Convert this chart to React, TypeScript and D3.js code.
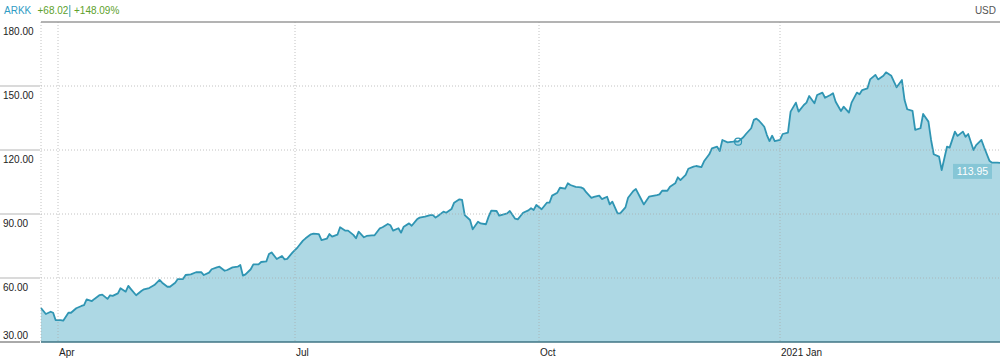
import React from "react";
import * as d3 from "d3";

const symbol = "ARKK";
const currency = "USD";

const dates = [
  "2020-03-25","2020-03-27","2020-03-29","2020-03-30","2020-03-31","2020-04-02","2020-04-03","2020-04-05","2020-04-06","2020-04-08",
  "2020-04-10","2020-04-11","2020-04-12","2020-04-14","2020-04-15","2020-04-17","2020-04-18","2020-04-20","2020-04-21","2020-04-22",
  "2020-04-24","2020-04-25","2020-04-27","2020-04-28","2020-04-29","2020-05-01","2020-05-03","2020-05-04","2020-05-06","2020-05-08",
  "2020-05-10","2020-05-11","2020-05-13","2020-05-14","2020-05-16","2020-05-17","2020-05-19","2020-05-20","2020-05-22","2020-05-24",
  "2020-05-26","2020-05-27","2020-05-29","2020-05-30","2020-06-01","2020-06-02","2020-06-04","2020-06-05","2020-06-07","2020-06-09",
  "2020-06-10","2020-06-11","2020-06-12","2020-06-14","2020-06-15","2020-06-17","2020-06-18","2020-06-20","2020-06-21","2020-06-22",
  "2020-06-24","2020-06-26","2020-06-27","2020-06-28","2020-06-30","2020-07-02","2020-07-04","2020-07-05","2020-07-07","2020-07-08",
  "2020-07-10","2020-07-11","2020-07-13","2020-07-14","2020-07-15","2020-07-17","2020-07-18","2020-07-20","2020-07-21","2020-07-23",
  "2020-07-24","2020-07-25","2020-07-27","2020-07-28","2020-07-30","2020-07-31","2020-08-02","2020-08-03","2020-08-05","2020-08-06",
  "2020-08-07","2020-08-09","2020-08-10","2020-08-11","2020-08-13","2020-08-14","2020-08-16","2020-08-17","2020-08-19","2020-08-21",
  "2020-08-22","2020-08-23","2020-08-24","2020-08-26","2020-08-27","2020-08-29","2020-08-30","2020-09-01","2020-09-02","2020-09-03",
  "2020-09-05","2020-09-06","2020-09-08","2020-09-09","2020-09-11","2020-09-12","2020-09-13","2020-09-15","2020-09-16","2020-09-18",
  "2020-09-19","2020-09-20","2020-09-22","2020-09-23","2020-09-25","2020-09-27","2020-09-28","2020-09-29","2020-09-30","2020-10-02",
  "2020-10-04","2020-10-05","2020-10-06","2020-10-08","2020-10-09","2020-10-11","2020-10-12","2020-10-13","2020-10-15","2020-10-17",
  "2020-10-18","2020-10-19","2020-10-21","2020-10-22","2020-10-24","2020-10-25","2020-10-27","2020-10-28","2020-10-29","2020-10-31",
  "2020-11-01","2020-11-03","2020-11-04","2020-11-06","2020-11-07","2020-11-09","2020-11-10","2020-11-12","2020-11-13","2020-11-15",
  "2020-11-16","2020-11-17","2020-11-19","2020-11-20","2020-11-22","2020-11-23","2020-11-24","2020-11-26","2020-11-27","2020-11-29",
  "2020-11-30","2020-12-02","2020-12-03","2020-12-05","2020-12-06","2020-12-08","2020-12-09","2020-12-10","2020-12-12","2020-12-14",
  "2020-12-15","2020-12-16","2020-12-18","2020-12-19","2020-12-21","2020-12-22","2020-12-23","2020-12-24","2020-12-26","2020-12-27",
  "2020-12-28","2020-12-29","2020-12-30","2021-01-01","2021-01-02","2021-01-04","2021-01-05","2021-01-07","2021-01-08","2021-01-10",
  "2021-01-11","2021-01-12","2021-01-14","2021-01-15","2021-01-17","2021-01-18","2021-01-20","2021-01-21","2021-01-22","2021-01-24",
  "2021-01-25","2021-01-27","2021-01-28","2021-01-30","2021-01-31","2021-02-01","2021-02-03","2021-02-04","2021-02-06","2021-02-07",
  "2021-02-09","2021-02-10","2021-02-12","2021-02-13","2021-02-14","2021-02-16","2021-02-17","2021-02-18","2021-02-20","2021-02-21",
  "2021-02-23","2021-02-24","2021-02-26","2021-02-27","2021-02-28","2021-03-02","2021-03-03","2021-03-05","2021-03-06","2021-03-08",
  "2021-03-09","2021-03-11","2021-03-12","2021-03-13","2021-03-15","2021-03-16","2021-03-18","2021-03-19","2021-03-21","2021-03-22",
  "2021-03-24","2021-03-25"
];

const closes = [
  45.93, 43.1, 44.2, 43.7, 40.3, 40.3, 40.0, 43.7, 43.7, 45.8,
  46.9, 47.3, 50.0, 49.2, 50.2, 52.0, 52.2, 50.2, 51.9, 51.6,
  52.8, 55.2, 53.6, 56.3, 54.8, 51.9, 53.9, 54.7, 55.3, 56.7,
  59.1, 57.8, 55.9, 55.9, 57.8, 59.5, 59.5, 61.4, 61.7, 62.7,
  62.7, 61.4, 62.5, 64.1, 65.0, 65.3, 63.4, 63.75, 65.0, 65.3,
  66.1, 61.1, 61.7, 64.1, 66.4, 66.4, 67.5, 67.8, 71.25, 72.0,
  68.9, 70.3, 68.75, 69.0, 71.9, 74.4, 77.5, 78.6, 80.5, 80.8,
  80.6, 77.8, 78.4, 80.6, 79.4, 80.3, 83.8, 82.2, 82.2, 80.2,
  78.6, 81.7, 79.1, 79.7, 80.0, 80.0, 83.3, 83.8, 85.3, 84.7,
  82.2, 83.3, 81.25, 84.05, 85.6, 84.5, 87.5, 88.3, 88.75, 89.5,
  89.5, 88.3, 89.2, 91.1, 90.6, 92.3, 95.3, 96.9, 96.6, 89.5,
  87.2, 82.8, 86.4, 85.6, 85.2, 88.75, 91.55, 91.4, 89.2, 89.9,
  90.3, 91.4, 87.8, 87.5, 90.6, 91.7, 92.7, 91.9, 94.2, 92.2,
  95.3, 95.3, 98.6, 100.0, 102.3, 101.9, 104.4, 103.6, 102.7, 102.5,
  101.9, 100.2, 97.6, 98.0, 98.6, 97.0, 98.1, 94.5, 95.8, 90.3,
  90.3, 93.1, 97.6, 100.8, 101.7, 96.9, 94.5, 98.1, 98.4, 98.9,
  99.2, 100.9, 100.9, 102.8, 104.4, 107.2, 105.9, 108.3, 111.2, 112.2,
  112.5, 112.0, 114.7, 118.0, 120.8, 121.55, 119.5, 124.7, 123.6, 123.9,
  124.1, 123.9, 125.95, 127.5, 130.2, 134.1, 134.7, 133.7, 130.9, 127.0,
  124.2, 126.7, 124.2, 124.7, 127.5, 128.1, 138.0, 142.2, 138.0, 141.1,
  142.2, 145.3, 141.9, 145.8, 146.9, 144.5, 145.8, 146.6, 142.6, 138.3,
  140.3, 137.5, 142.2, 146.9, 146.1, 148.1, 148.9, 153.1, 155.2, 153.1,
  154.8, 156.4, 154.8, 152.0, 149.4, 152.8, 143.4, 139.1, 138.3, 129.4,
  130.2, 136.9, 133.3, 124.7, 118.0, 116.9, 110.6, 121.55, 121.1, 128.6,
  126.6, 128.6, 126.2, 127.5, 120.0, 122.3, 124.7, 121.3, 115.0, 114.05,
  114.05, 113.95
];

const yTicks = [30, 60, 90, 120, 150, 180];
const xTickDates = ["2020-04-01", "2020-07-01", "2020-10-01", "2021-01-01"];
const xTickLabels = ["Apr", "Jul", "Oct", "2021 Jan"];
const markerDate = "2020-12-16";

const FONT = "'Liberation Sans', Arial, sans-serif";

export default function App() {
  const W = 1000;
  const H = 361;
  const left = 41;
  const right = 1000;
  const top = 22;
  const bottom = 342;

  const parse = d3.utcParse("%Y-%m-%d");
  const data = dates.map((d, i) => ({ date: parse(d) as Date, value: closes[i] }));
  const first = data[0];
  const last = data[data.length - 1];
  const tickDates = xTickDates.map((d) => parse(d) as Date);

  const x = d3
    .scaleUtc()
    .domain([first.date, ...tickDates, last.date])
    .range([left, 58, 295, 539, 780, right]);
  const y = d3.scaleLinear().domain([30, 180]).range([bottom, top]);

  const line = d3
    .line<{ date: Date; value: number }>()
    .x((d) => x(d.date))
    .y((d) => y(d.value));
  const area = d3
    .area<{ date: Date; value: number }>()
    .x((d) => x(d.date))
    .y0(bottom)
    .y1((d) => y(d.value));

  const change = last.value - first.value;
  const pct = (change / first.value) * 100;
  const fmt = d3.format(".2f");
  const signed = (v: number) => (v >= 0 ? "+" : "") + fmt(v);

  const marker = data.find((d) => d3.utcFormat("%Y-%m-%d")(d.date) === markerDate)!;

  return (
    <svg
      width={W}
      height={H}
      style={{ position: "absolute", left: 0, top: 0, display: "block", background: "#fff" }}
      fontFamily={FONT}
    >
      {/* header */}
      <text x={4} y={14} fontSize={10} fill="#2f9cc4">{symbol}</text>
      <text x={37.5} y={14} fontSize={10} fill="#5e9f2c">{signed(change)}</text>
      <rect x={69} y={5} width={1.5} height={12} fill="#7cc0d3" />
      <text x={74} y={14} fontSize={10} fill="#5e9f2c">{signed(pct) + "%"}</text>
      <text x={996} y={14} fontSize={10} fill="#555" textAnchor="end">{currency}</text>

      {/* area + line */}
      <path d={area(data) || ""} fill="#add8e4" />
      <path d={line(data) || ""} fill="none" stroke="#2f95b3" strokeWidth={1.8} strokeLinejoin="round" />

      {/* grid over area */}
      {yTicks
        .filter((t) => t !== 30 && t !== 180)
        .map((t) => (
          <line key={"g" + t} x1={left} x2={right} y1={y(t)} y2={y(t)} stroke="#a8a8a8" strokeOpacity={0.7} strokeDasharray="1,2" />
        ))}
      {tickDates.map((d, i) => (
        <line key={"v" + i} x1={x(d)} x2={x(d)} y1={top} y2={bottom} stroke="#a8a8a8" strokeOpacity={0.7} strokeDasharray="1,2" />
      ))}
      <line x1={left} x2={left} y1={top} y2={bottom} stroke="#a8a8a8" strokeOpacity={0.7} strokeDasharray="1,2" />

      {/* frame lines */}
      <line x1={left} x2={right} y1={top} y2={top} stroke="#9a9a9a" strokeWidth={1.5} />
      <line x1={left} x2={right} y1={bottom} y2={bottom} stroke="#3f7585" strokeWidth={1.5} />

      {/* y axis labels */}
      {yTicks.map((t) => (
        <g key={"y" + t}>
          {t !== 180 && (
            <line x1={0} x2={40} y1={y(t)} y2={y(t)} stroke={t === 30 ? "#555" : "#b5b5b5"} strokeWidth={1} />
          )}
          <text x={3} y={t === 30 ? y(t) - 3 : y(t) + 13} fontSize={10} fill="#222">
            {fmt(t)}
          </text>
        </g>
      ))}

      {/* x axis labels */}
      {tickDates.map((d, i) => (
        <text key={"x" + i} x={x(d) + 1} y={356} fontSize={10} fill="#222">
          {xTickLabels[i]}
        </text>
      ))}

      {/* marker */}
      <circle cx={x(marker.date)} cy={y(marker.value)} r={3.5} fill="none" stroke="#2f95b3" strokeWidth={1.2} />

      {/* last value label */}
      <rect x={953} y={y(last.value) + 1} width={39} height={15} fill="#86c6d6" />
      <text x={972.5} y={y(last.value) + 12.5} fontSize={10.5} fill="#fff" textAnchor="middle">
        {fmt(last.value)}
      </text>
    </svg>
  );
}
